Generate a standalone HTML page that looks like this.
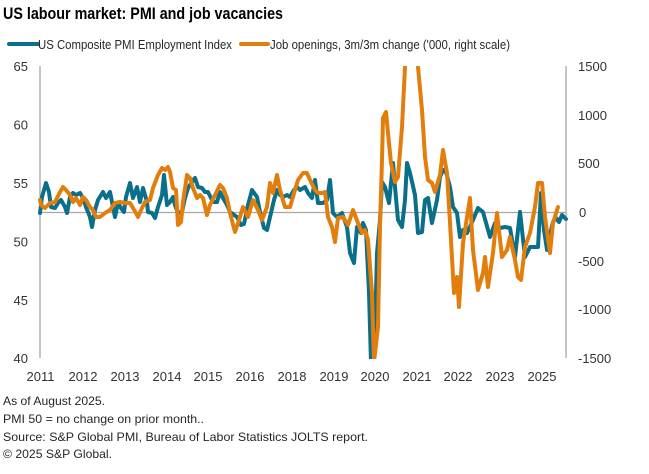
<!DOCTYPE html>
<html>
<head>
<meta charset="utf-8">
<style>
  html, body { margin:0; padding:0; background:#ffffff; }
  body { width:649px; height:474px; overflow:hidden; }
  svg { display:block; }
  text { font-family: "Liberation Sans", Arial, sans-serif; }
</style>
</head>
<body>
<svg width="649" height="474" viewBox="0 0 649 474" xmlns="http://www.w3.org/2000/svg">
  <defs>
    <clipPath id="plot">
      <rect x="36" y="66" width="534" height="293"/>
    </clipPath>
  </defs>

  <!-- Title -->
  <text x="3" y="19" font-size="17" font-weight="bold" fill="#000" textLength="280" lengthAdjust="spacingAndGlyphs">US labour market: PMI and job vacancies</text>

  <!-- Legend -->
  <line x1="9" y1="44" x2="38" y2="44" stroke="#0a6f8a" stroke-width="4" stroke-linecap="round"/>
  <text x="38" y="49" font-size="13" fill="#262626" textLength="194" lengthAdjust="spacingAndGlyphs">US Composite PMI Employment Index</text>
  <line x1="241" y1="44" x2="268" y2="44" stroke="#e37e0d" stroke-width="4" stroke-linecap="round"/>
  <text x="270" y="49" font-size="13" fill="#262626" textLength="240" lengthAdjust="spacingAndGlyphs">Job openings, 3m/3m change ('000, right scale)</text>

  <!-- Axes -->
  <line x1="40" y1="66" x2="40" y2="358" stroke="#a6a6a6" stroke-width="1.3"/>
  <line x1="566" y1="66" x2="566" y2="358" stroke="#a6a6a6" stroke-width="1.3"/>
  <line x1="40" y1="212.5" x2="566" y2="212.5" stroke="#a6a6a6" stroke-width="1.3"/>

  <!-- Left axis labels -->
  <g font-size="13" fill="#333" text-anchor="end">
    <text x="28" y="71">65</text>
    <text x="28" y="129.5">60</text>
    <text x="28" y="188">55</text>
    <text x="28" y="246.5">50</text>
    <text x="28" y="305">45</text>
    <text x="28" y="363">40</text>
  </g>

  <!-- Right axis labels -->
  <g font-size="13" fill="#333" text-anchor="start">
    <text x="578" y="71">1500</text>
    <text x="578" y="120">1000</text>
    <text x="578" y="168">500</text>
    <text x="579" y="217">0</text>
    <text x="578" y="266">-500</text>
    <text x="578" y="314">-1000</text>
    <text x="578" y="363">-1500</text>
  </g>

  <!-- X axis labels -->
  <g font-size="13" fill="#333" text-anchor="middle">
    <text x="40.5" y="381">2011</text>
    <text x="83" y="381">2012</text>
    <text x="125" y="381">2013</text>
    <text x="167" y="381">2014</text>
    <text x="208" y="381">2015</text>
    <text x="250" y="381">2016</text>
    <text x="292" y="381">2018</text>
    <text x="334" y="381">2019</text>
    <text x="375" y="381">2020</text>
    <text x="417" y="381">2021</text>
    <text x="458" y="381">2022</text>
    <text x="500" y="381">2023</text>
    <text x="542" y="381">2025</text>
  </g>

  <g clip-path="url(#plot)" fill="none" stroke-width="4" stroke-linejoin="round" stroke-linecap="round">
    <!-- PMI series (teal) -->
    <polyline stroke="#0a6f8a" points="
      40,213 42,197 46,183 49,192 51,207 55,208 58,203 61,200 65,207 67,213 70,197 73,193 76,195 80,193 83,198 86,207 90,217 92,227 95,210 98,200 103,192 106,198 110,192 113,207 115,217 118,203 121,208 124,212 126,197 130,183 133,198 137,187 140,202 143,188 147,202 148,212 152,213 155,218 158,207 162,195 164,175 167,205 170,202 173,197 175,205 178,213 182,212 185,198 188,188 192,182 195,178 198,187 202,188 205,192 208,192 213,202 217,202 220,192 223,198 227,205 230,212 237,217 241,225 244,224 248,205 252,190 257,197 260,212 264,228 267,230 270,217 274,200 277,190 280,195 283,197 287,195 290,197 294,190 297,187 300,190 305,187 308,193 312,198 315,180 318,203 323,203 327,200 330,180 333,213 337,217 342,213 347,227 350,253 354,263 357,227 361,233 363,223 366,230 369,293 371,362 375,333 377,253 380,220 382,182 385,187 389,203 393,163 395,187 398,220 402,227 405,200 407,163 410,173 415,195 418,233 422,232 425,200 428,198 432,223 437,200 440,177 443,170 446,172 450,187 453,207 457,213 460,237 463,230 467,233 473,220 478,208 483,212 490,237 495,223 500,228 505,227 510,228 515,257 520,212 525,257 530,247 535,247 538,247 541,193 544,230 547,250 550,235 553,222 556,218 559,222 562,215 566,219"/>
    <!-- Job openings series (orange) -->
    <polyline stroke="#e37e0d" points="
      40,200 41,205 45,208 50,203 55,202 60,192 63,187 66,190 70,195 73,202 76,198 80,205 83,197 86,200 90,207 93,210 96,217 100,217 105,213 110,210 115,203 120,202 125,203 130,203 133,208 136,213 138,217 142,208 145,202 150,200 153,188 158,175 162,168 165,170 168,167 170,172 173,188 176,190 178,225 181,222 183,202 187,175 190,178 193,188 197,198 200,195 203,198 207,215 210,205 215,195 220,185 223,188 227,198 230,213 235,232 240,217 243,207 248,217 253,200 258,210 262,220 267,207 270,183 273,193 277,175 280,190 285,207 290,207 295,190 298,180 303,173 307,173 310,180 315,190 318,193 322,193 325,192 328,217 332,227 335,242 338,218 343,217 348,225 353,210 358,223 362,233 365,230 368,240 372,293 374,362 378,327 380,227 382,160 383,118 386,112 388,133 391,163 395,182 398,177 402,127 405,67 408,20 415,20 418,67 422,110 425,157 428,180 432,183 435,192 440,175 443,150 447,173 450,223 454,293 457,277 459,307 463,243 470,198 473,250 478,290 483,273 485,257 488,287 493,253 497,213 502,257 507,250 510,237 515,260 518,277 521,280 525,247 530,233 535,207 538,183 542,183 545,217 550,253 553,223 558,207"/>
  </g>

  <!-- Footnotes -->
  <g font-size="12" fill="#262626">
    <text x="3" y="405" textLength="102" lengthAdjust="spacingAndGlyphs">As of August 2025.</text>
    <text x="3" y="423" textLength="201" lengthAdjust="spacingAndGlyphs">PMI 50 = no change on prior month..</text>
    <text x="3" y="441" textLength="365" lengthAdjust="spacingAndGlyphs">Source: S&amp;P Global PMI, Bureau of Labor Statistics JOLTS report.</text>
    <text x="3" y="458" textLength="109" lengthAdjust="spacingAndGlyphs">© 2025 S&amp;P Global.</text>
  </g>
</svg>
</body>
</html>
